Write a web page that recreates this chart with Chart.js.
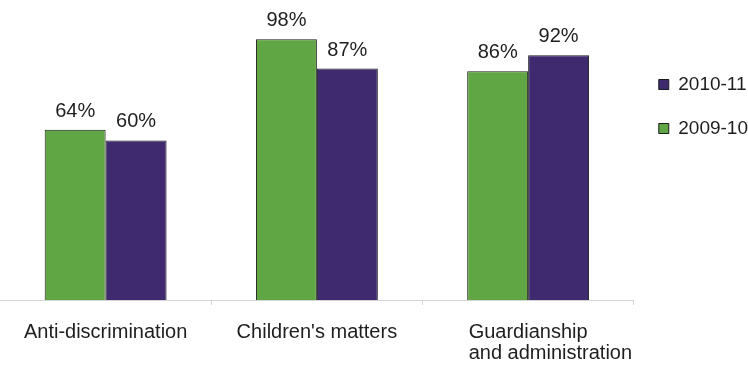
<!DOCTYPE html>
<html lang="en">
<head>
  <meta charset="UTF-8" />
  <title>Anti-discrimination, children's matters, guardianship</title>
  <script src="https://cdn.jsdelivr.net/npm/chart.js"></script>
  <style>
    html, body { margin: 0; padding: 0; background: #fff; }
    #wrap { width: 748px; height: 367px; }
  </style>
</head>
<body>
  <div id="wrap"><canvas id="barChart" width="748" height="367"></canvas></div>

  <script>
    // data
    const categories = ["Anti-discrimination", "Children's matters", ["Guardianship", "and administration"]];
    const seriesNames = ["2009-10", "2010-11"];
    const values2009 = [64, 98, 86];
    const values2010 = [60, 87, 92];

    const green = "#60a645";
    const purple = "#3f2a70";
    const textColor = "#1e1e1e";
    const fontFamily = "Arial, 'Liberation Sans', sans-serif";

    // percent labels over each bar
    const valueLabels = {
      id: "valueLabels",
      afterDatasetsDraw(chart) {
        const ctx = chart.ctx;
        ctx.save();
        ctx.font = "20px " + fontFamily;
        ctx.fillStyle = textColor;
        ctx.textAlign = "center";
        ctx.textBaseline = "alphabetic";
        chart.data.datasets.forEach((ds, i) => {
          chart.getDatasetMeta(i).data.forEach((bar, j) => {
            ctx.fillText(ds.data[j] + "%", bar.x, bar.y - 13);
          });
        });
        ctx.restore();
      }
    };

    // category labels: first line centred on the tick, other lines start at the same x
    const categoryLabels = {
      id: "categoryLabels",
      afterDraw(chart) {
        const ctx = chart.ctx;
        const x = chart.scales.x;
        ctx.save();
        ctx.font = "20px " + fontFamily;
        ctx.fillStyle = textColor;
        ctx.textAlign = "left";
        ctx.textBaseline = "alphabetic";
        categories.forEach((label, i) => {
          const lines = Array.isArray(label) ? label : [label];
          const cx = x.getPixelForTick(i);
          const left = cx - ctx.measureText(lines[0]).width / 2;
          lines.forEach((line, k) => {
            ctx.fillText(line, left, x.bottom + 33 + k * 21);
          });
        });
        ctx.restore();
      }
    };

    new Chart(document.getElementById("barChart"), {
      type: "bar",
      data: {
        labels: categories,
        datasets: [
          {
            label: seriesNames[0],
            data: values2009,
            backgroundColor: green,
            borderColor: "#1b1b1b",
            borderWidth: 1
          },
          {
            label: seriesNames[1],
            data: values2010,
            backgroundColor: purple,
            borderColor: "#1b1b1b",
            borderWidth: 1
          }
        ]
      },
      options: {
        responsive: false,
        animation: false,
        events: [],
        layout: { padding: { top: 34, bottom: 62, left: 0, right: -10 } },
        datasets: {
          bar: { categoryPercentage: 0.577, barPercentage: 1 }
        },
        scales: {
          x: {
            ticks: { display: false },
            grid: {
              drawOnChartArea: false,
              drawTicks: true,
              tickLength: 5,
              color: ctx => (ctx.index === 0 || ctx.index === categories.length) ? "rgba(0,0,0,0)" : "#d6d6d6"
            },
            border: { color: "#d6d6d6", width: 1 }
          },
          y: {
            display: false,
            min: 0,
            max: 100
          }
        },
        plugins: {
          tooltip: { enabled: false },
          legend: {
            position: "right",
            align: "start",
            reverse: true,
            title: { display: true, text: "", font: { size: 10 }, padding: 2 },
            labels: {
              boxWidth: 10,
              boxHeight: 10,
              padding: 25,
              color: textColor,
              font: { size: 19, family: fontFamily }
            }
          }
        }
      },
      plugins: [valueLabels, categoryLabels]
    });
  </script>
</body>
</html>
